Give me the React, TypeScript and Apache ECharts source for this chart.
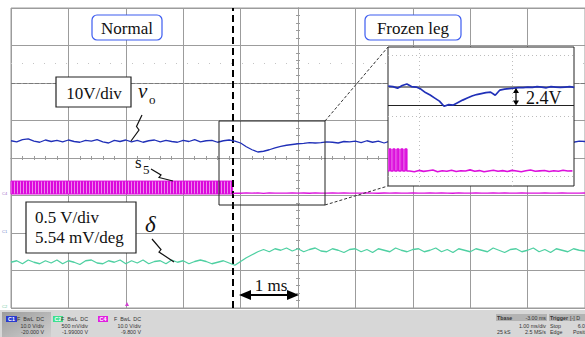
import React, { useEffect, useRef } from "react";
import * as echarts from "echarts";

const SERIF = '"Liberation Serif", "Times New Roman", serif';
const SANS = '"Liberation Sans", Arial, sans-serif';

// ---------- main screen: 1 ms/div, 10 divisions ----------
const mainTimeStart = -5.0; // ms
const mainTimeStep = 0.1; // ms
const eventTime = -1.14; // ms, instant of the frozen leg

// channel scope settings (V/div, centre value)
const chVo = { perDiv: 10, centre: 20 };
const chS5 = { perDiv: 10, centre: 9.8 };
const chDelta = { perDiv: 0.5, centre: 1.99 };

// v_o (V), t = -5.0 .. 5.0 ms
const voMain = [
  24.6, 24.3, 24.9, 25.1, 24.5, 24.2, 24.8, 24.4, 24.7, 24.3,
  24.8, 24.4, 24.2, 24.7, 24.5, 24.9, 24.3, 24.0, 24.7, 24.4,
  24.8, 24.3, 24.7, 24.2, 24.6, 24.8, 24.3, 24.7, 24.4, 24.2,
  24.7, 24.4, 24.9, 24.3, 24.6, 24.7, 24.2, 24.6, 24.8, 24.5,
  24.0, 23.0, 22.2, 21.6, 21.8, 22.2, 22.7, 23.1, 23.4, 23.6,
  23.8, 23.9, 24.1, 24.0, 24.1, 24.3, 24.2, 24.0, 24.4, 24.3,
  24.5, 24.1, 24.6, 24.2, 24.5, 24.0, 24.5, 24.2, 24.6, 24.3,
  24.2, 24.6, 24.1, 24.5, 24.7, 24.2, 24.5, 24.6, 24.2, 24.5,
  24.6, 24.2, 24.5, 24.1, 24.6, 24.3, 24.2, 24.6, 24.4, 24.2,
  24.5, 24.6, 24.2, 24.4, 24.7, 24.2, 24.5, 24.6, 24.2, 24.5, 24.4,
];

// delta (V), t = -5.0 .. 5.0 ms
const deltaMain = [
  0.60, 0.62, 0.58, 0.63, 0.60, 0.58, 0.62, 0.59, 0.63, 0.58,
  0.62, 0.60, 0.57, 0.62, 0.63, 0.59, 0.58, 0.62, 0.60, 0.63,
  0.58, 0.62, 0.59, 0.63, 0.58, 0.61, 0.62, 0.58, 0.63, 0.60,
  0.62, 0.58, 0.61, 0.63, 0.61, 0.58, 0.60, 0.62, 0.59, 0.56,
  0.61, 0.66, 0.70, 0.74, 0.77, 0.74, 0.78, 0.76, 0.79, 0.75,
  0.78, 0.74, 0.77, 0.79, 0.75, 0.74, 0.78, 0.76, 0.73, 0.77,
  0.78, 0.74, 0.77, 0.73, 0.78, 0.76, 0.74, 0.79, 0.76, 0.74,
  0.77, 0.78, 0.74, 0.76, 0.79, 0.74, 0.77, 0.73, 0.78, 0.76,
  0.74, 0.78, 0.76, 0.74, 0.79, 0.76, 0.73, 0.77, 0.78, 0.74,
  0.76, 0.79, 0.74, 0.77, 0.73, 0.78, 0.76, 0.74, 0.78, 0.76, 0.75,
];

// s5 gate signal: switching band before the fault, then low level
const s5PwmLevels = [0.2, 3.65]; // V (low, high)
const s5LowStart = -1.1; // ms
const s5LowMain = [
  0.45, 0.40, 0.50, 0.42, 0.48, 0.38, 0.52, 0.44, 0.46, 0.41,
  0.49, 0.43, 0.47, 0.40, 0.51, 0.45, 0.42, 0.48, 0.44, 0.50,
  0.41, 0.46, 0.43, 0.49, 0.45, 0.40, 0.47, 0.44, 0.52, 0.42,
  0.46, 0.48, 0.41, 0.45, 0.50, 0.43, 0.47, 0.44, 0.40, 0.49,
  0.45, 0.42, 0.48, 0.46, 0.41, 0.50, 0.44, 0.47, 0.43, 0.45,
  0.49, 0.42, 0.46, 0.44, 0.48, 0.41, 0.45, 0.50, 0.43, 0.46,
  0.44, 0.47,
];

// ---------- inset (zoomed view) ----------
const insetTimeRange = [-1.333, 0.667]; // ms
const insetStart = -1.33;
const insetStep = 0.05;
const voInsetRange = [11.33, 29.83];
const s5InsetRange = [-1.9, 19.48];
const voInset = [
  24.63, 24.56, 24.35, 24.70, 24.90, 24.56, 24.50, 24.23, 23.76, 23.43,
  23.03, 22.63, 21.95, 22.16, 22.10, 22.43, 22.76, 23.03, 23.30, 23.50,
  23.63, 23.76, 23.83, 23.40, 24.10, 24.23, 24.30, 24.36, 24.43, 24.43,
  24.50, 24.45, 24.55, 24.50, 24.40, 24.55, 24.50, 24.45, 24.50, 24.55, 24.45,
];
const voSteady = 24.5;
const voDip = 22.1; // 2.4 V below steady value
const s5InsetPulseCentres = [-1.312, -1.269, -1.226, -1.183, -1.14];
const s5InsetPulseWidth = 0.018;
const s5InsetLevels = [0.4, 3.8];
const s5InsetBandEnd = -1.129;
const s5InsetLowStart = -1.1;
const s5InsetLow = [
  0.40, 0.30, 0.50, 0.35, 0.45, 0.55, 0.30, 0.45, 0.38, 0.52,
  0.32, 0.44, 0.40, 0.58, 0.36, 0.47, 0.30, 0.42, 0.53, 0.38,
  0.46, 0.33, 0.50, 0.40, 0.28, 0.44, 0.55, 0.36, 0.42, 0.48,
  0.32, 0.45, 0.38, 0.52, 0.40, 0.43,
];

const GRID = "#9c9c9c";
const BLUE = "#2030b8";
const MAGENTA = "#dc10dc";
const GREEN = "#4fd0a2";

const r2 = (x: number) => Math.round(x * 1000) / 1000;

function stripePattern(): any {
  try {
    const c = document.createElement("canvas");
    c.width = 3;
    c.height = 2;
    const ctx = c.getContext("2d");
    if (!ctx) return "#e03ae0";
    ctx.fillStyle = "#dc08dc";
    ctx.fillRect(0, 0, 2, 2);
    ctx.fillStyle = "#ee86ee";
    ctx.fillRect(2, 0, 1, 2);
    return { image: c, repeat: "repeat" };
  } catch (e) {
    return "#e03ae0";
  }
}

function buildOption() {
  const voData = voMain.map((v, i) => [r2(mainTimeStart + i * mainTimeStep), v]);
  const deltaData = deltaMain.map((v, i) => [r2(mainTimeStart + i * mainTimeStep), v]);
  const s5Data: number[][] = [[eventTime, s5PwmLevels[0]]].concat(
    s5LowMain.map((v, i) => [r2(s5LowStart + i * mainTimeStep), v])
  );
  const voInsetData = voInset.map((v, i) => [r2(insetStart + i * insetStep), v]);
  const s5InsetData: number[][] = [[insetTimeRange[0], s5InsetLevels[0]]];
  s5InsetPulseCentres.forEach((c) => {
    const a = r2(c - s5InsetPulseWidth / 2);
    const b = r2(c + s5InsetPulseWidth / 2);
    s5InsetData.push([a, s5InsetLevels[0]], [a, s5InsetLevels[1]], [b, s5InsetLevels[1]], [b, s5InsetLevels[0]]);
  });
  s5InsetLow.forEach((v, i) => s5InsetData.push([r2(s5InsetLowStart + i * insetStep), v]));

  const rangeOf = (ch: { perDiv: number; centre: number }) => ({
    min: r2(ch.centre - 4 * ch.perDiv),
    max: r2(ch.centre + 4 * ch.perDiv),
  });

  const gl = { color: GRID, width: 1 };
  const tickCommon = {
    axisLabel: { show: false },
    axisLine: { show: true, onZero: true, onZeroAxisIndex: 0, lineStyle: gl },
    axisTick: { show: true, inside: false, length: 2, lineStyle: gl },
    minorTick: { show: true, splitNumber: 5, length: 2, lineStyle: gl },
  };

  const dotted = { color: "#bdbdbd", width: 1, type: [1, 3] as any };

  const T = (text: string, x: number, y: number, fontSize: number, extra: any = {}) => ({
    type: "text",
    x,
    y,
    z: 12,
    silent: true,
    style: {
      text,
      fontSize,
      fontFamily: SERIF,
      fill: "#111",
      align: extra.align || "left",
      textAlign: extra.align || "left",
      verticalAlign: "middle",
      textVerticalAlign: "middle",
      fontStyle: extra.fontStyle || "normal",
      fontWeight: extra.fontWeight || "normal",
    },
  });
  const S = (text: string, x: number, y: number, align: string, extra: any = {}) => ({
    type: "text",
    x,
    y,
    z: 12,
    silent: true,
    style: {
      text,
      fontSize: extra.fontSize || 5.3,
      fontFamily: SANS,
      fill: extra.fill || "#333",
      align,
      textAlign: align,
      verticalAlign: "middle",
      textVerticalAlign: "middle",
      fontWeight: extra.fontWeight || "normal",
    },
  });
  const poly = (points: number[][], lw = 1.2) => ({
    type: "polyline",
    z: 11,
    silent: true,
    shape: { points },
    style: { stroke: "#111", lineWidth: lw, fill: "none" },
  });
  const tri = (points: number[][]) => ({
    type: "polygon",
    z: 11,
    silent: true,
    shape: { points },
    style: { fill: "#000" },
  });

  const graphics: any[] = [
    // zoom window + connectors
    { type: "rect", z: 10, silent: true, shape: { x: 219, y: 121, width: 106, height: 84 }, style: { fill: "none", stroke: "#222", lineWidth: 1 } },
    { type: "line", z: 10, silent: true, shape: { x1: 325, y1: 121, x2: 388, y2: 47 }, style: { stroke: "#333", lineWidth: 1, lineDash: [3, 2] } },
    { type: "line", z: 10, silent: true, shape: { x1: 325, y1: 205, x2: 388, y2: 186 }, style: { stroke: "#333", lineWidth: 1, lineDash: [3, 2] } },
    // label boxes
    { type: "rect", z: 10, silent: true, shape: { x: 92, y: 15, width: 70, height: 25, r: 5 }, style: { fill: "#fff", stroke: "#3d5cf0", lineWidth: 1.2 } },
    T("Normal", 127, 28, 17, { align: "center" }),
    { type: "rect", z: 10, silent: true, shape: { x: 365, y: 15, width: 96, height: 25, r: 5 }, style: { fill: "#fff", stroke: "#3d5cf0", lineWidth: 1.2 } },
    T("Frozen leg", 413, 28, 17, { align: "center" }),
    { type: "rect", z: 10, silent: true, shape: { x: 56, y: 77, width: 75, height: 30 }, style: { fill: "#fff", stroke: "#222", lineWidth: 1.2 } },
    T("10V/div", 94, 93, 17, { align: "center" }),
    { type: "rect", z: 10, silent: true, shape: { x: 26, y: 202, width: 110, height: 51 }, style: { fill: "#fff", stroke: "#222", lineWidth: 1.2 } },
    T("0.5 V/div", 35, 217.5, 17),
    T("5.54 mV/deg", 35, 237.5, 17),
    // signal names
    T("v", 138, 90.7, 21, { fontStyle: "italic" }),
    T("o", 149, 99, 13),
    T("s", 135, 162.5, 17),
    T("5", 143, 169, 13),
    T("δ", 145, 224, 23, { fontStyle: "italic" }),
    // pointer squiggles
    poly([[131, 141], [139, 130], [136.5, 126.5], [142, 115]]),
    poly([[151, 169], [161, 175], [159, 177.5], [173, 181]]),
    poly([[152, 239], [161, 249.5], [159, 252], [174, 262]]),
    // 1 ms arrow
    { type: "line", z: 11, silent: true, shape: { x1: 245, y1: 295, x2: 293, y2: 295 }, style: { stroke: "#000", lineWidth: 2 } },
    tri([[239, 295], [251, 290], [251, 300]]),
    tri([[299, 295], [287, 290], [287, 300]]),
    T("1 ms", 271, 285, 17, { align: "center" }),
    // 2.4 V arrow
    { type: "line", z: 11, silent: true, shape: { x1: 516, y1: 91, x2: 516, y2: 103 }, style: { stroke: "#000", lineWidth: 1.2 } },
    tri([[516, 88], [513, 93], [519, 93]]),
    tri([[516, 105.5], [513, 100.5], [519, 100.5]]),
    T("2.4V", 526, 97.5, 18),
    // trigger marker
    { type: "polygon", z: 11, silent: true, shape: { points: [[125, 306], [129, 306], [127, 302]] }, style: { fill: "#d040d0" } },
    // ground markers
    S("C4", 2, 193, "left", { fontSize: 4, fill: "#a070c8" }),
    S("C1", 2, 231, "left", { fontSize: 4, fill: "#6f80c8" }),
    S("C2", 2, 306, "left", { fontSize: 4, fill: "#6cc8a0" }),
    // status bar
    { type: "rect", z: 10, silent: true, shape: { x: 0, y: 310, width: 585, height: 27 }, style: { fill: "#d7d7d7" } },
    {
      type: "rect", z: 10, silent: true, shape: { x: 2, y: 312, width: 49, height: 25 },
      style: { fill: new echarts.graphic.LinearGradient(0, 0, 1, 1, [{ offset: 0, color: "#9c9c9c" }, { offset: 1, color: "#cfcfcf" }]) },
    },
    { type: "rect", z: 11, silent: true, shape: { x: 6, y: 316, width: 11, height: 6 }, style: { fill: "#2a3cd0" } },
    S("C1", 11.5, 319, "center", { fill: "#fff", fontWeight: "bold" }),
    S("F  BwL  DC", 44, 319, "right"),
    S("10.0 V/div", 44, 326, "right"),
    S("-20.000 V", 44, 332, "right"),
    { type: "rect", z: 11, silent: true, shape: { x: 53, y: 316, width: 10, height: 6 }, style: { fill: "#3fe08e" } },
    S("C2", 58, 319, "center", { fill: "#fff", fontWeight: "bold" }),
    S("F  BwL  DC", 88, 319, "right"),
    S("500 mV/div", 88, 326, "right"),
    S("-1.99000 V", 88, 332, "right"),
    { type: "rect", z: 11, silent: true, shape: { x: 98, y: 316, width: 10, height: 6 }, style: { fill: "#e020e0" } },
    S("C4", 103, 319, "center", { fill: "#fff", fontWeight: "bold" }),
    S("F  BwL  DC", 141, 319, "right"),
    S("10.0 V/div", 141, 326, "right"),
    S("-9.800 V", 141, 332, "right"),
    { type: "rect", z: 11, silent: true, shape: { x: 496, y: 314, width: 51, height: 7 }, style: { fill: "#b3b3b3" } },
    S("Tbase", 497, 317.5, "left", { fontWeight: "bold" }),
    S("-3.00 ms", 546, 317.5, "right"),
    S("1.00 ms/div", 546, 326, "right"),
    S("25 kS", 497, 332, "left"),
    S("2.5 MS/s", 546, 332, "right"),
    { type: "rect", z: 11, silent: true, shape: { x: 549, y: 314, width: 36, height: 7 }, style: { fill: "#b3b3b3" } },
    S("Trigger", 550, 317.5, "left", { fontWeight: "bold" }),
    S("[-] D", 570, 317.5, "left"),
    S("Stop", 550, 326, "left"),
    S("6.0", 585, 326, "right"),
    S("Edge", 550, 332, "left"),
    S("Positi", 573, 332, "left"),
  ];

  return {
    animation: false,
    backgroundColor: "#ffffff",
    grid: [
      { left: 11, top: 8, width: 580, height: 300, show: true, borderColor: GRID, borderWidth: 1, backgroundColor: "transparent", z: 0 },
      { left: 388, top: 47, width: 186, height: 139, show: true, backgroundColor: "#ffffff", borderColor: "#222", borderWidth: 1, z: 3 },
    ],
    xAxis: [
      { gridIndex: 0, type: "value", min: -5, max: 5, interval: 1, splitLine: { show: true, lineStyle: gl }, ...tickCommon },
      {
        gridIndex: 0, type: "value", position: "top", min: -5, max: 5, interval: 1, splitLine: { show: false }, ...tickCommon,
      },
      { gridIndex: 1, type: "value", min: insetTimeRange[0], max: insetTimeRange[1], show: false, splitLine: { show: false } },
    ],
    yAxis: [
      { gridIndex: 0, type: "value", position: "left", min: -4, max: 4, interval: 1, splitLine: { show: true, lineStyle: gl }, ...tickCommon },
      { gridIndex: 0, type: "value", position: "right", min: -4, max: 4, interval: 1, splitLine: { show: false }, ...tickCommon },
      { gridIndex: 0, type: "value", ...rangeOf(chVo), show: false, splitLine: { show: false } },
      { gridIndex: 0, type: "value", ...rangeOf(chS5), show: false, splitLine: { show: false } },
      { gridIndex: 0, type: "value", ...rangeOf(chDelta), show: false, splitLine: { show: false } },
      { gridIndex: 1, type: "value", min: voInsetRange[0], max: voInsetRange[1], show: false, splitLine: { show: false } },
      { gridIndex: 1, type: "value", min: s5InsetRange[0], max: s5InsetRange[1], show: false, splitLine: { show: false } },
    ],
    series: [
      {
        name: "delta", type: "line", xAxisIndex: 0, yAxisIndex: 4, data: deltaData, showSymbol: false, z: 2,
        lineStyle: { color: GREEN, width: 1.3 },
      },
      {
        name: "s5", type: "line", xAxisIndex: 0, yAxisIndex: 3, data: s5Data, showSymbol: false, z: 2,
        lineStyle: { color: MAGENTA, width: 1.3 },
        markArea: {
          silent: true, z: 2,
          itemStyle: { color: stripePattern(), borderColor: MAGENTA, borderWidth: 1 },
          data: [[{ xAxis: mainTimeStart, yAxis: s5PwmLevels[0] }, { xAxis: eventTime, yAxis: s5PwmLevels[1] }]],
        },
      },
      {
        name: "vo", type: "line", xAxisIndex: 0, yAxisIndex: 2, data: voData, showSymbol: false, z: 2,
        lineStyle: { color: BLUE, width: 1.3 },
        markLine: {
          silent: true, symbol: "none", z: 2, label: { show: false },
          data: [
            { yAxis: chVo.centre + 2 * chVo.perDiv, lineStyle: { color: "#7a7a7a", width: 1, type: [4, 2] } },
            { yAxis: 45.3, lineStyle: { color: "#c4c4c4", width: 1, type: [1, 10] } },
            { xAxis: eventTime, lineStyle: { color: "#000", width: 2, type: [7, 4] } },
          ],
        },
      },
      {
        name: "s5 (zoom)", type: "line", xAxisIndex: 2, yAxisIndex: 6, data: s5InsetData, showSymbol: false, z: 5,
        lineStyle: { color: MAGENTA, width: 1.6 },
        markArea: {
          silent: true, z: 4,
          itemStyle: { color: "#f2a6f2" },
          data: [[{ xAxis: insetTimeRange[0], yAxis: s5InsetLevels[0] }, { xAxis: s5InsetBandEnd, yAxis: s5InsetLevels[1] }]],
        },
        markLine: {
          silent: true, symbol: "none", z: 4, label: { show: false },
          data: [{ yAxis: -0.37, lineStyle: dotted }],
        },
      },
      {
        name: "vo (zoom)", type: "line", xAxisIndex: 2, yAxisIndex: 5, data: voInsetData, showSymbol: false, z: 5,
        lineStyle: { color: BLUE, width: 1.7 },
        markLine: {
          silent: true, symbol: "none", z: 4, label: { show: false },
          data: [
            { yAxis: 28.76, lineStyle: dotted },
            { yAxis: 20.63, lineStyle: dotted },
            { xAxis: -1, lineStyle: dotted },
            { xAxis: 0, lineStyle: dotted },
            { yAxis: voSteady, lineStyle: { color: "#8c8c8c", width: 2, type: "solid" } },
            { yAxis: voDip, lineStyle: { color: "#222", width: 1, type: "solid" } },
          ],
        },
      },
    ],
    graphic: graphics,
  };
}

export default function App() {
  const ref = useRef<HTMLDivElement>(null);
  useEffect(() => {
    if (!ref.current) return;
    const chart = echarts.init(ref.current, undefined, { renderer: "svg" });
    chart.setOption(buildOption() as any);
    return () => chart.dispose();
  }, []);
  return (
    <div
      ref={ref}
      style={{ position: "fixed", left: 0, top: 0, width: 585, height: 337, background: "#fff" }}
    />
  );
}
